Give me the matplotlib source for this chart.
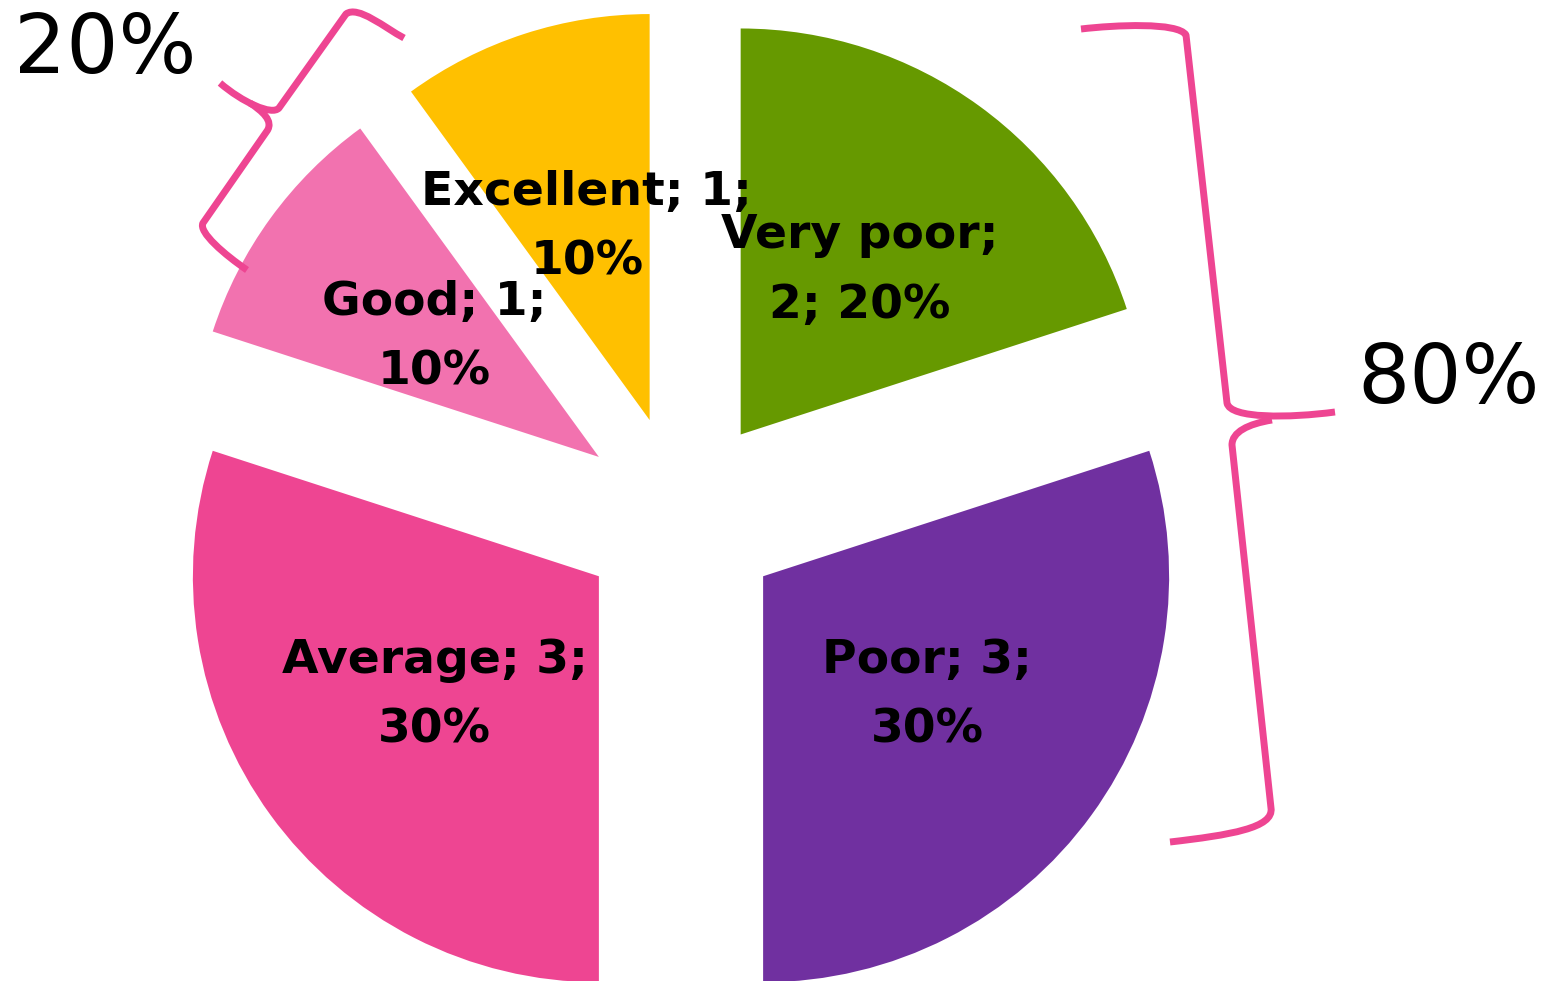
import matplotlib
matplotlib.use("Agg")
import matplotlib.pyplot as plt
from matplotlib.path import Path
from matplotlib.patches import PathPatch

# ---- data ----
categories = ["Very poor", "Poor", "Average", "Good", "Excellent"]
values = [2, 3, 3, 1, 1]
colors = ["#669900", "#7030A0", "#EE4592", "#F272AF", "#FFC000"]
break_after_name = [True, False, False, False, False]
group_labels = ["80%", "20%"]

W, H = 1553, 981
R_PX = 406.0
CX, CY = 681.0, 516.6  # pie centre in pixels (y from top)

fig = plt.figure(figsize=(W / 100, H / 100), dpi=100)
ax = fig.add_axes([0, 0, 1, 1])

label_iter = iter(range(len(values)))


def fmt(pct):
    i = next(label_iter)
    c, v = categories[i], values[i]
    p = f"{round(pct):d}%"
    if break_after_name[i]:
        return f"{c};\n{v}; {p}"
    return f"{c}; {v};\n{p}"


wedges, texts, autotexts = ax.pie(
    values,
    colors=colors,
    startangle=90,
    counterclock=False,
    radius=1.0,
    explode=[0.25] * len(values),
    autopct=fmt,
    pctdistance=0.5,
    wedgeprops=dict(linewidth=0),
    textprops=dict(fontsize=34, fontweight="bold", color="black",
                   family="DejaVu Sans", linespacing=1.7),
)
ax.set_xlim(-CX / R_PX, (W - CX) / R_PX)
ax.set_ylim(-(H - CY) / R_PX, CY / R_PX)
ax.set_aspect("auto")
ax.axis("off")

# overlay in pixel coordinates for braces and group labels
ov = fig.add_axes([0, 0, 1, 1], zorder=5)
ov.set_xlim(0, W)
ov.set_ylim(H, 0)
ov.axis("off")
ov.patch.set_alpha(0)

brace_color = "#EE4592"
lw = 5

M, L, C = Path.MOVETO, Path.LINETO, Path.CURVE4


def draw(verts, codes):
    ov.add_patch(PathPatch(Path(verts, codes), fill=False, edgecolor=brace_color,
                           lw=lw, capstyle="butt", joinstyle="round"))


# big brace (right)
draw([(1081, 29), (1115, 25), (1178, 22), (1186, 35),
      (1227, 403),
      (1230, 419), (1290, 418), (1335, 412)],
     [M, C, C, C, L, C, C, C])
draw([(1272, 420), (1248, 424), (1232, 432), (1232, 445),
      (1271, 808),
      (1274, 828), (1230, 835), (1170, 842)],
     [M, C, C, C, L, C, C, C])

# small brace (top left)
draw([(404, 38), (385, 28), (358, 5), (346, 14),
      (279, 108),
      (272, 116), (242, 102), (220, 83)],
     [M, C, C, C, L, C, C, C])
draw([(250, 103), (262, 111), (274, 121), (267, 131),
      (203, 223),
      (198, 232), (225, 255), (247, 270)],
     [M, C, C, C, L, C, C, C])

ov.text(1449, 380, group_labels[0], fontsize=59, ha="center", va="center",
        color="black", family="DejaVu Sans")
ov.text(105, 51, group_labels[1], fontsize=59, ha="center", va="center",
        color="black", family="DejaVu Sans")

fig.savefig("out.png", dpi=100, facecolor="white")
